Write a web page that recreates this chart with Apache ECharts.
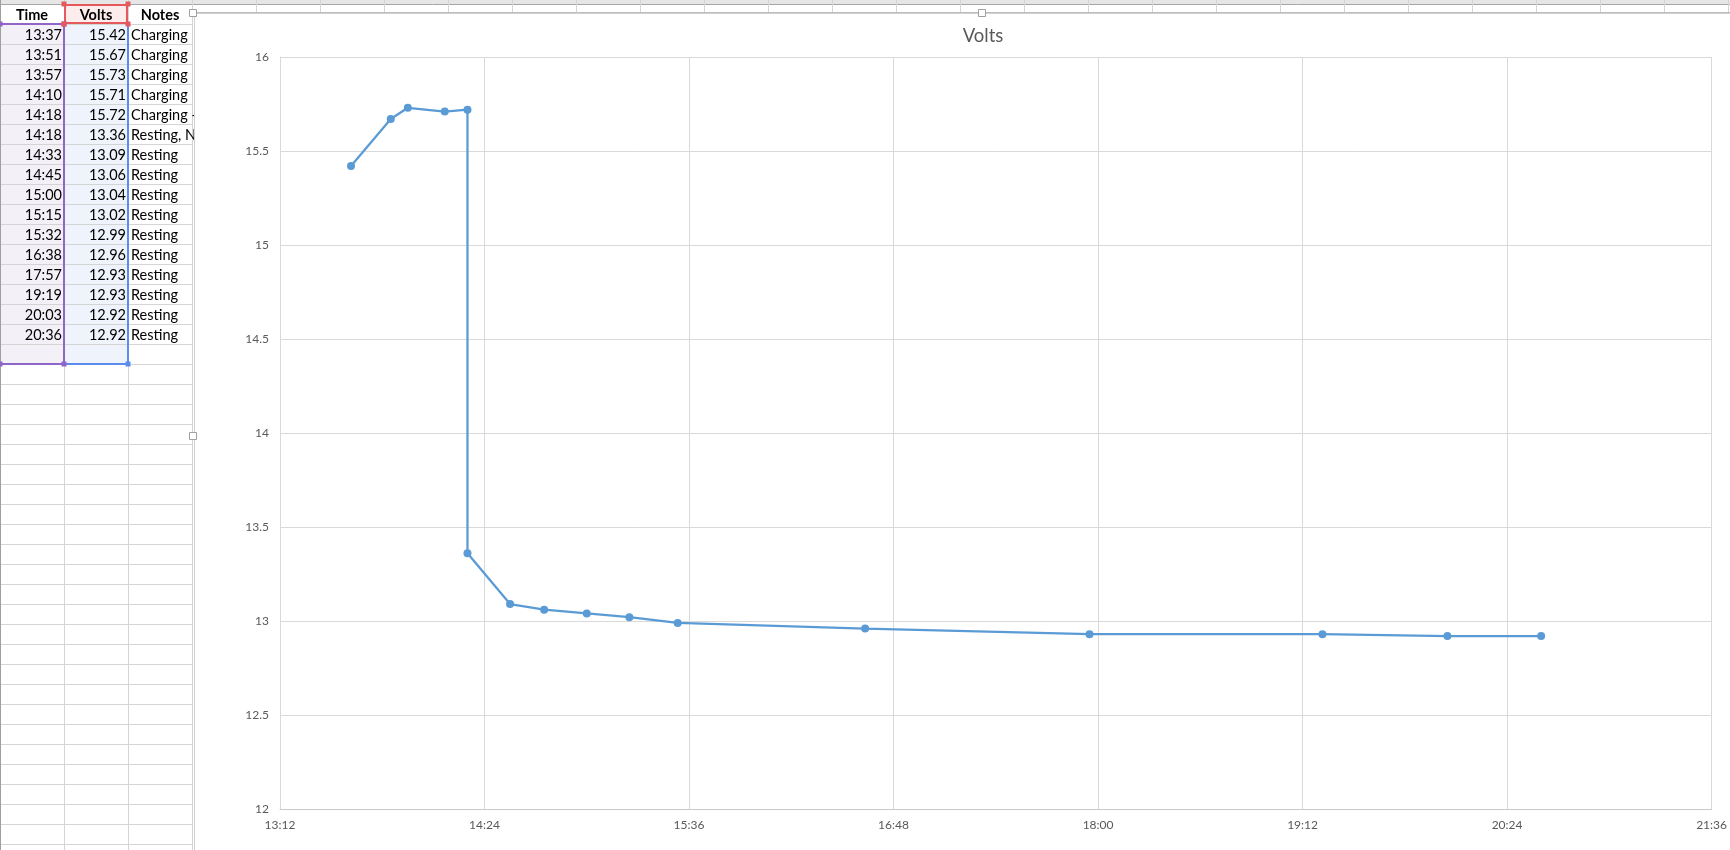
<!DOCTYPE html>
<html>
<head>
<meta charset="utf-8">
<script src="https://cdn.jsdelivr.net/npm/echarts@6/dist/echarts.min.js"></script>
<style>
html,body{margin:0;padding:0;background:#fff;}
#c{width:1730px;height:850px;}
</style>
</head>
<body>
<div id="c"></div>
<script>
// ---- data ----
const times = ['13:37','13:51','13:57','14:10','14:18','14:18','14:33','14:45','15:00','15:15','15:32','16:38','17:57','19:19','20:03','20:36'];
const volts = [15.42,15.67,15.73,15.71,15.72,13.36,13.09,13.06,13.04,13.02,12.99,12.96,12.93,12.93,12.92,12.92];
const notes = ['Charging','Charging','Charging','Charging','Charging -','Resting, N','Resting','Resting','Resting','Resting','Resting','Resting','Resting','Resting','Resting','Resting'];
const headers = ['Time','Volts','Notes'];
const chartTitle = 'Volts';
const xMin = '13:12', xMax = '21:36', xStep = 72;   // minutes
const yMin = 12, yMax = 16, yStep = 0.5;

// ---- helpers ----
function toMin(t){const p=t.split(':');return (+p[0])*60+(+p[1]);}
function fmt(m){const h=Math.floor(m/60),mm=Math.round(m%60);return h+':'+(mm<10?'0':'')+mm;}
const seriesData = times.map((t,i)=>[toMin(t), volts[i]]);

const FONT = 'Lato, "Open Sans", sans-serif';
const G = [];
function line(x1,y1,x2,y2,color,w,z){G.push({type:'line',z:z,silent:true,shape:{x1,y1,x2,y2},style:{stroke:color,lineWidth:w}});}
function rect(x,y,w,h,fill,stroke,lw,z){G.push({type:'rect',z:z,silent:true,shape:{x,y,width:w,height:h},style:{fill:fill||'none',stroke:stroke||null,lineWidth:lw||0}});}
function text(x,y,s,align,weight,z){G.push({type:'text',z:z,silent:true,x:x,y:y,style:{text:s,fill:'#000',font:(weight||'normal')+' 14.5px '+FONT,textAlign:align,textVerticalAlign:'middle'}});}

const ZT = -30, ZF = -20;
// top header strip
rect(0,0,1730,4,'#E6E6E6',null,0,ZT);
// selection fills
rect(1,24,63,340,'#F3F0F8',null,0,ZT);
rect(64,24,64,340,'#EEF3FC',null,0,ZT);
rect(64,4,64,20,'#FCECEC',null,0,ZT);
// horizontal grid lines
for(let y=24;y<=850;y+=20){ line(0,y+0.5,192,y+0.5,'#D4D4D4',1,ZT); }
line(0,4.5,1730,4.5,'#A6A6A6',1,ZT);
line(192,12.5,1730,12.5,'#BDBDBD',1,ZT);
// vertical grid lines
line(0.5,0,0.5,850,'#9E9E9E',1,ZT);
for(let x=64;x<=1730;x+=64){ line(x+0.5,0,x+0.5,x<=192?850:12,'#D4D4D4',1,ZT); }
// table text
headers.forEach((h,i)=>text(32+64*i,15,h,'center','bold',ZT));
times.forEach((t,i)=>{
  const cy = 24+20*i+11;
  text(62,cy,t,'right','normal',ZT);
  text(126,cy,volts[i].toFixed(2),'right','normal',ZT);
  text(131,cy,notes[i],'left','normal',ZT);
});
// selection borders
const PUR='#9065C8', BLU='#5B8DEE', RED='#E5585C';
line(0,24,64,24,PUR,2,ZT);
line(64,24,64,364,PUR,2,ZT);
line(0,364,64,364,PUR,2,ZT);
line(128,24,128,364,BLU,2,ZT);
line(64,364,128,364,BLU,2,ZT);
rect(65,5,62,18,null,RED,2,ZT);
[[0,24],[64,24],[0,364],[64,364]].forEach(p=>rect(p[0]-2.5,p[1]-2.5,5,5,PUR,null,0,ZT));
[[128,364]].forEach(p=>rect(p[0]-2.5,p[1]-2.5,5,5,BLU,null,0,ZT));
[[64,4],[128,4],[64,24],[128,24]].forEach(p=>rect(p[0]-2.5,p[1]-2.5,5,5,RED,null,0,ZT));
// chart frame
rect(194.5,13.5,1600,900,'#fff','#D0D0D0',1,ZF);
// handles
[[193,13],[982,13],[193,436]].forEach(p=>rect(p[0]-3.5,p[1]-3.5,7,7,'#fff','#A0A0A0',1,ZF+1));
// title
G.push({type:'text',z:ZF+1,silent:true,x:983,y:36,style:{text:chartTitle,fill:'#595959',font:'18.5px '+FONT,textAlign:'center',textVerticalAlign:'middle'}});

const chart = echarts.init(document.getElementById('c'), null, {renderer:'canvas'});
chart.setOption({
  animation:false,
  graphic: G,
  grid:{left:280,top:57,right:18,bottom:41,containLabel:false},
  xAxis:{
    type:'value', min:toMin(xMin), max:toMin(xMax), interval:xStep,
    axisLine:{show:true,lineStyle:{color:'#C8C8C8',width:1}},
    axisTick:{show:false},
    axisLabel:{formatter:v=>fmt(v),color:'#595959',fontSize:12,fontFamily:FONT,margin:10,showMaxLabel:true,showMinLabel:true},
    splitLine:{show:true,lineStyle:{color:'#D9D9D9',width:1}}
  },
  yAxis:{
    type:'value', min:yMin, max:yMax, interval:yStep,
    axisLine:{show:true,lineStyle:{color:'#D9D9D9',width:1}},
    axisTick:{show:false},
    axisLabel:{color:'#595959',fontSize:12,fontFamily:FONT,margin:11},
    splitLine:{show:true,lineStyle:{color:'#D9D9D9',width:1}}
  },
  series:[{
    type:'line', data:seriesData,
    symbol:'circle', symbolSize:8,
    lineStyle:{color:'#5B9BD5',width:2.25},
    itemStyle:{color:'#5B9BD5'},
    z:5
  }]
});
</script>
</body>
</html>
